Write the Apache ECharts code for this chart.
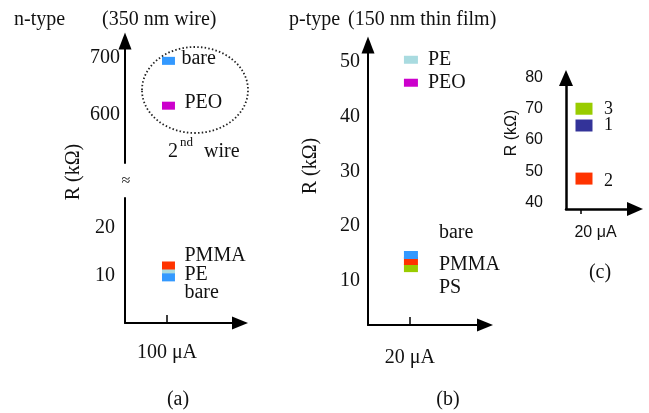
<!DOCTYPE html>
<html>
<head>
<meta charset="utf-8">
<script src="https://cdn.jsdelivr.net/npm/echarts@6/dist/echarts.min.js"></script>
<style>
  html, body { margin: 0; padding: 0; background: #fff; }
  #chart { width: 649px; height: 413px; }
</style>
</head>
<body>
<div id="chart"></div>
<script>
// (a) n-type 350 nm wire, upper (2nd wire) and lower part of broken axis
const wireUpperNames = ['bare', 'PEO']
const wireUpperR = [695, 616]
const wireUpperTicks = [600, 700]
const wireLowerNames = ['PE', 'PMMA', 'bare']
const wireLowerR = [10.95, 12.1, 9.6]
const wireLowerTicks = [10, 20]
const wireCurrent = '100 μA'

// (b) p-type 150 nm thin film
const filmNames = ['PE', 'PEO', 'PS', 'PMMA', 'bare']
const filmR = [50.4, 46.2, 12.3, 13.6, 14.7]
const filmTicks = [10, 20, 30, 40, 50]
const filmCurrent = '20 μA'

// (c)
const cNames = ['3', '1', '2']
const cR = [70.1, 64.7, 47.6]
const cTicks = [40, 50, 60, 70, 80]
const cCurrent = '20 μA'

const serif = 'Liberation Serif'
const sans = 'Liberation Sans'
const ink = '#111'

const colors = {
  bare: '#3399ff',
  PEO: '#cc00cc',
  PMMA: '#ff3300',
  PE: '#a9dbe0',
  PS: '#99cc00',
  '3': '#99cc00',
  '1': '#333399',
  '2': '#ff3300'
}

// label placement [distance, dy] per name
const wireUpperLabel = { bare: [5, -2], PEO: [8, -3] }
const wireLowerLabel = { PMMA: [8, -10], PE: [8, 4], bare: [8, 15] }
const filmLabel = { PE: [9, 0], PEO: [9, 0], PS: [20, 20], PMMA: [20, 4], bare: [20, -22] }
const cLabel = { '3': [8, 1], '1': [8, 0], '2': [8, 3] }

function points(names, values, labels, size, font, offsetX) {
  return names.map((n, i) => ({
    value: [1, values[i]],
    name: n,
    symbolOffset: [offsetX || 0, 0],
    itemStyle: { color: colors[n], opacity: 1 },
    label: {
      show: true,
      position: 'right',
      distance: labels[n][0] + (offsetX || 0),
      offset: [0, labels[n][1]],
      formatter: '{b}',
      color: ink,
      opacity: 1,
      fontFamily: font,
      fontSize: size
    }
  }))
}

const arrowLine = (size, w) => ({
  show: true,
  symbol: ['none', 'triangle'],
  symbolSize: size,
  lineStyle: { color: '#000', width: w }
})

const chart = echarts.init(document.getElementById('chart'))

chart.setOption({
  animation: false,
  backgroundColor: '#fff',
  grid: [
    { left: 125, top: 41, width: 115, height: 122 },
    { left: 125, top: 198, width: 115, height: 125 },
    { left: 368, top: 45, width: 117, height: 280 },
    { left: 566, top: 78, width: 69, height: 131 }
  ],
  xAxis: [
    { gridIndex: 0, type: 'value', min: 0, max: 2.74, show: false },
    {
      gridIndex: 1, type: 'value', min: 0, max: 2.74,
      axisLine: arrowLine([13, 16], 2),
      splitLine: { show: false },
      axisTick: { show: true, inside: true, length: 8, lineStyle: { color: '#000', width: 1.5 }, customValues: [1] },
      axisLabel: { customValues: [1], formatter: () => wireCurrent, margin: 20, color: ink, fontFamily: serif, fontSize: 20 }
    },
    {
      gridIndex: 2, type: 'value', min: 0, max: 2.79,
      axisLine: arrowLine([13, 16], 2),
      splitLine: { show: false },
      axisTick: { show: true, inside: true, length: 8, lineStyle: { color: '#000', width: 1.5 }, customValues: [1] },
      axisLabel: { customValues: [1], formatter: () => filmCurrent, margin: 23, color: ink, fontFamily: serif, fontSize: 20 }
    },
    {
      gridIndex: 3, type: 'value', min: 0, max: 4.76,
      axisLine: arrowLine([14, 16], 2.5),
      splitLine: { show: false },
      axisTick: { show: true, inside: false, length: 5, lineStyle: { color: '#000', width: 1.5 }, customValues: [1] },
      axisLabel: { customValues: [1], formatter: () => cCurrent, margin: 16, padding: [0, 0, 0, 30], color: ink, fontFamily: sans, fontSize: 16 }
    }
  ],
  yAxis: [
    {
      gridIndex: 0, type: 'value', min: 515, max: 730,
      axisLine: arrowLine([13, 17], 2),
      axisTick: { show: false },
      splitLine: { show: false },
      axisLabel: { customValues: wireUpperTicks, margin: 5, color: ink, fontFamily: serif, fontSize: 20 }
    },
    {
      gridIndex: 1, type: 'value', min: 0, max: 26.3,
      axisLine: { show: true, lineStyle: { color: '#000', width: 2 } },
      axisTick: { show: false },
      splitLine: { show: false },
      axisLabel: { customValues: wireLowerTicks, margin: 10, color: ink, fontFamily: serif, fontSize: 20 }
    },
    {
      gridIndex: 2, type: 'value', min: 1.9, max: 53.1,
      axisLine: arrowLine([13, 17], 2),
      axisTick: { show: false },
      splitLine: { show: false },
      axisLabel: { customValues: filmTicks, margin: 8, color: ink, fontFamily: serif, fontSize: 20 }
    },
    {
      gridIndex: 3, type: 'value', min: 37.8, max: 80,
      axisLine: arrowLine([14, 16], 2.5),
      axisTick: { show: false },
      splitLine: { show: false },
      axisLabel: { customValues: cTicks, margin: 23, color: ink, fontFamily: sans, fontSize: 16 }
    }
  ],
  series: [
    {
      type: 'scatter', xAxisIndex: 0, yAxisIndex: 0,
      symbol: 'rect', symbolSize: [13, 8],
      data: points(wireUpperNames, wireUpperR, wireUpperLabel, 20, serif, 1.5)
    },
    {
      type: 'scatter', xAxisIndex: 1, yAxisIndex: 1,
      symbol: 'rect', symbolSize: [13, 8],
      data: points(wireLowerNames, wireLowerR, wireLowerLabel, 20, serif, 1.5)
    },
    {
      type: 'scatter', xAxisIndex: 2, yAxisIndex: 2,
      symbol: 'rect', symbolSize: [14, 8],
      data: points(filmNames, filmR, filmLabel, 20, serif, 1)
    },
    {
      type: 'scatter', xAxisIndex: 3, yAxisIndex: 3,
      symbol: 'rect', symbolSize: [17, 12],
      data: points(cNames, cR, cLabel, 18, serif, 3.5)
    }
  ],
  graphic: [
    { type: 'text', x: 14, y: 20, style: { text: 'n-type', font: '20px ' + serif, fill: ink, textVerticalAlign: 'middle' } },
    { type: 'text', x: 102, y: 20, style: { text: '(350 nm wire)', font: '20px ' + serif, fill: ink, textVerticalAlign: 'middle' } },
    { type: 'text', x: 289, y: 20, style: { text: 'p-type', font: '20px ' + serif, fill: ink, textVerticalAlign: 'middle' } },
    { type: 'text', x: 348, y: 20, style: { text: '(150 nm thin film)', font: '20px ' + serif, fill: ink, textVerticalAlign: 'middle' } },
    {
      type: 'ellipse', shape: { cx: 195, cy: 90, rx: 53, ry: 43 },
      style: { fill: 'none', stroke: '#222', lineWidth: 1.8, lineDash: [1.5, 2.2] }
    },
    { type: 'text', x: 168, y: 152, style: { text: '2', font: '20px ' + serif, fill: ink, textVerticalAlign: 'middle' } },
    { type: 'text', x: 180, y: 143, style: { text: 'nd', font: '13px ' + serif, fill: ink, textVerticalAlign: 'middle' } },
    { type: 'text', x: 204, y: 152, style: { text: 'wire', font: '20px ' + serif, fill: ink, textVerticalAlign: 'middle' } },
    { type: 'text', x: 126, y: 181, style: { text: '≈', font: '16px ' + serif, fill: ink, textAlign: 'center', textVerticalAlign: 'middle' } },
    { type: 'text', x: 74, y: 172, rotation: Math.PI / 2, style: { text: 'R (kΩ)', font: '20px ' + serif, fill: ink, textAlign: 'center', textVerticalAlign: 'middle' } },
    { type: 'text', x: 311, y: 166, rotation: Math.PI / 2, style: { text: 'R (kΩ)', font: '20px ' + serif, fill: ink, textAlign: 'center', textVerticalAlign: 'middle' } },
    { type: 'text', x: 512, y: 133, rotation: Math.PI / 2, style: { text: 'R (kΩ)', font: '16px ' + sans, fill: ink, textAlign: 'center', textVerticalAlign: 'middle' } },
    { type: 'text', x: 178, y: 400, style: { text: '(a)', font: '20px ' + serif, fill: ink, textAlign: 'center', textVerticalAlign: 'middle' } },
    { type: 'text', x: 448, y: 400, style: { text: '(b)', font: '20px ' + serif, fill: ink, textAlign: 'center', textVerticalAlign: 'middle' } },
    { type: 'text', x: 600, y: 273, style: { text: '(c)', font: '20px ' + serif, fill: ink, textAlign: 'center', textVerticalAlign: 'middle' } }
  ]
})
</script>
</body>
</html>
